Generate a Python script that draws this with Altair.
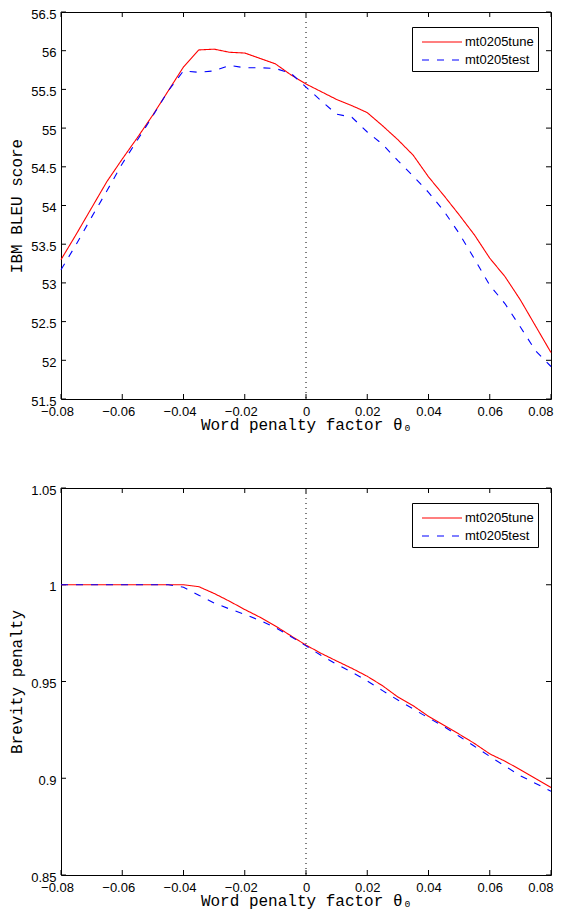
import altair as alt
import pandas as pd

# ---- data ----
x_vals = [-0.080, -0.075, -0.070, -0.065, -0.060, -0.055, -0.050, -0.045, -0.040,
          -0.035, -0.030, -0.025, -0.020, -0.015, -0.010, -0.005, 0.000, 0.005,
          0.010, 0.015, 0.020, 0.025, 0.030, 0.035, 0.040, 0.045, 0.050, 0.055,
          0.060, 0.065, 0.070, 0.075, 0.080]

bleu_tune = [53.30, 53.63, 53.97, 54.31, 54.60, 54.88, 55.17, 55.48, 55.79,
             56.01, 56.02, 55.98, 55.97, 55.90, 55.83, 55.69, 55.57, 55.47,
             55.37, 55.29, 55.20, 55.03, 54.85, 54.65, 54.37, 54.13, 53.88, 53.62,
             53.32, 53.08, 52.78, 52.44, 52.10]
bleu_test = [53.17, 53.50, 53.85, 54.19, 54.54, 54.85, 55.16, 55.48, 55.74,
             55.72, 55.74, 55.81, 55.78, 55.78, 55.77, 55.71, 55.53, 55.35,
             55.18, 55.14, 54.95, 54.79, 54.58, 54.38, 54.17, 53.93, 53.64, 53.31,
             52.97, 52.73, 52.43, 52.12, 51.92]

bp_tune = [1.0, 1.0, 1.0, 1.0, 1.0, 1.0, 1.0, 1.0, 1.0,
           0.9990, 0.9955, 0.9915, 0.9872, 0.9832, 0.9787, 0.9737, 0.9688, 0.9645,
           0.9606, 0.9568, 0.9527, 0.9478, 0.9420, 0.9375, 0.9320, 0.9274, 0.9228, 0.9180,
           0.9126, 0.9088, 0.9044, 0.8998, 0.8952]
bp_test = [1.0, 1.0, 1.0, 1.0, 1.0, 1.0, 1.0, 1.0, 0.9987,
           0.9946, 0.9906, 0.9875, 0.9847, 0.9815, 0.9779, 0.9733, 0.9684, 0.9634,
           0.9589, 0.9548, 0.9503, 0.9453, 0.9404, 0.9358, 0.9312, 0.9267, 0.9217, 0.9165,
           0.9113, 0.9063, 0.9013, 0.8973, 0.8933]

series_names = ["mt0205tune", "mt0205test"]
x_ticks = [-0.08, -0.06, -0.04, -0.02, 0, 0.02, 0.04, 0.06, 0.08]
bleu_ticks = [51.5, 52, 52.5, 53, 53.5, 54, 54.5, 55, 55.5, 56, 56.5]
bp_ticks = [0.85, 0.9, 0.95, 1, 1.05]

x_title = "Word penalty factor \u03b8\u2080"

W, H = 490, 387
TICK = 5


def long_df(a, b):
    return pd.DataFrame({
        "x": x_vals * 2,
        "v": a + b,
        "series": [series_names[0]] * len(a) + [series_names[1]] * len(b),
    })


def panel(df, y_domain, y_ticks, y_title):
    xs = alt.Scale(domain=[-0.08, 0.08], nice=False, zero=False)
    ys = alt.Scale(domain=y_domain, nice=False, zero=False)
    xax = alt.Axis(
        values=x_ticks, format="~g", title=x_title, labelFlush=False,
        labelAlign={"condition": {"test": "datum.value > 0.0799", "value": "right"}, "value": "center"},
        labelOffset={"condition": [{"test": "datum.value < -0.001", "value": -4},
                                   {"test": "datum.value > 0.0799", "value": 2}],
                     "value": 0},
    )
    yax = alt.Axis(values=y_ticks, format="~g", title=y_title, labelFlush=False, labelOffset=2)
    legend = alt.Legend(
        title=None, orient="none", legendX=351, legendY=15,
        strokeColor="black", fillColor="white", padding=4,
        labelFont="Liberation Sans", labelFontSize=13, labelColor="black",
        symbolType="M-2,0L2,0", symbolSize=400, symbolStrokeWidth=1.2,
        symbolOffset=15, labelOffset=12, rowPadding=0,
    )
    lines = alt.Chart(df).mark_line(strokeWidth=1.1).encode(
        x=alt.X("x:Q", scale=xs, axis=xax),
        y=alt.Y("v:Q", scale=ys, axis=yax),
        color=alt.Color("series:N", sort=series_names,
                        scale=alt.Scale(domain=series_names, range=["#ff0000", "#0000ff"]),
                        legend=legend),
        strokeDash=alt.StrokeDash("series:N", sort=series_names,
                                  scale=alt.Scale(domain=series_names, range=[[1, 0], [7, 8]]),
                                  legend=legend),
        order=alt.Order("series:N", sort="descending"),
    )
    zero = alt.Chart(pd.DataFrame({"z": [0]})).mark_rule(
        color="black", strokeDash=[1, 4], strokeWidth=1
    ).encode(x=alt.X("z:Q", scale=xs, axis=xax))
    xt = pd.DataFrame({"xt": x_ticks})
    yt = pd.DataFrame({"yt": y_ticks})
    xt_top = alt.Chart(xt).mark_rule(color="black").encode(
        x=alt.X("xt:Q", scale=xs, axis=xax), y=alt.value(0), y2=alt.value(TICK))
    xt_bot = alt.Chart(xt).mark_rule(color="black").encode(
        x=alt.X("xt:Q", scale=xs, axis=xax), y=alt.value(H - TICK), y2=alt.value(H))
    yt_left = alt.Chart(yt).mark_rule(color="black").encode(
        y=alt.Y("yt:Q", scale=ys, axis=yax), x=alt.value(0), x2=alt.value(TICK))
    yt_right = alt.Chart(yt).mark_rule(color="black").encode(
        y=alt.Y("yt:Q", scale=ys, axis=yax), x=alt.value(W - TICK), x2=alt.value(W))
    return alt.layer(zero, xt_top, xt_bot, yt_left, yt_right, lines).properties(width=W, height=H)


top = panel(long_df(bleu_tune, bleu_test), [51.5, 56.5], bleu_ticks, "IBM BLEU score")
bottom = panel(long_df(bp_tune, bp_test), [0.85, 1.05], bp_ticks, "Brevity penalty")

chart = alt.vconcat(top, bottom, spacing=50).resolve_scale(
    color="independent", strokeDash="independent"
).resolve_legend(
    color="independent", strokeDash="independent"
).properties(
    padding={"top": -1, "left": 0, "right": 0, "bottom": 0}
).configure_view(
    stroke="black", strokeWidth=1
).configure_axis(
    ticks=False, domain=False, grid=False,
    labelFont="Liberation Sans", labelFontSize=13, labelColor="black",
    titleFont="Liberation Mono", titleFontSize=16, titleFontWeight="normal", titleColor="black",
).configure_axisX(
    labelPadding=6, titlePadding=-2,
).configure_axisY(
    labelPadding=5, titlePadding=6,
)

chart.save("out.html", embed_options={"renderer": "svg", "actions": False})
